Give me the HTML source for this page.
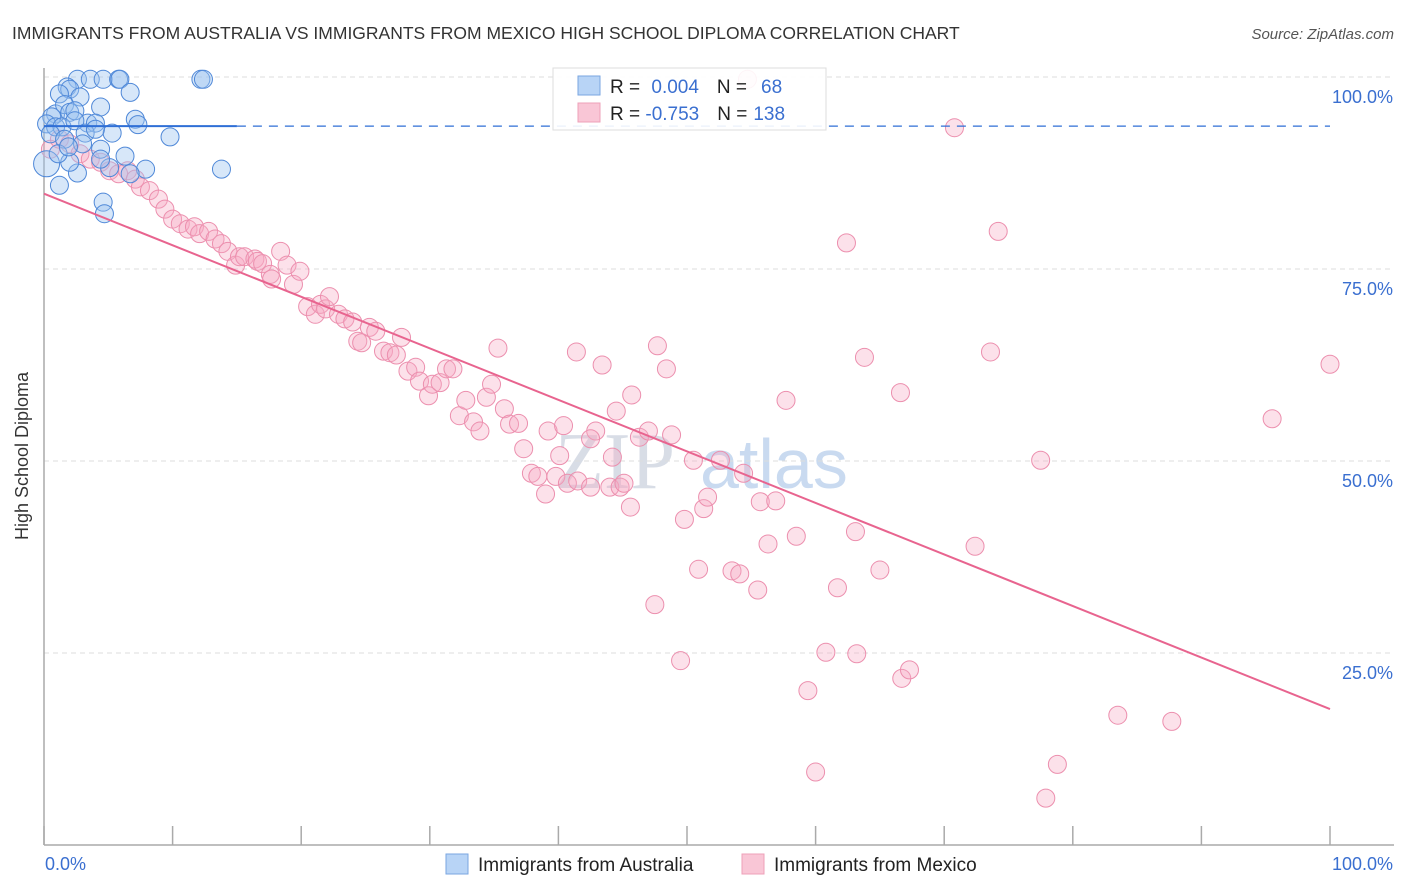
<!DOCTYPE html>
<html><head><meta charset="utf-8"><style>
body{margin:0;background:#fff;font-family:"Liberation Sans",sans-serif}
svg{display:block}
</style></head><body>
<svg id="c" width="1406" height="892" xmlns="http://www.w3.org/2000/svg">
<text x="12" y="39" font-size="17.5" fill="#333">IMMIGRANTS FROM AUSTRALIA VS IMMIGRANTS FROM MEXICO HIGH SCHOOL DIPLOMA CORRELATION CHART</text>
<text x="1394" y="39" font-size="15" fill="#555" font-style="italic" text-anchor="end">Source: ZipAtlas.com</text>
<text x="28" y="456" font-size="18" fill="#333" text-anchor="middle" transform="rotate(-90 28 456)">High School Diploma</text>
<text x="555" y="488" font-size="80" fill="#d8dde6" font-family="Liberation Serif,serif">ZIP</text>
<text x="700" y="488" font-size="70" fill="#c9daf0">atlas</text>
<g id="grid"></g><g id="pts"></g><g id="lines"></g>
<g>
<rect x="553" y="68" width="273" height="62" fill="#fff" fill-opacity="0.9" stroke="#ddd"/>
<rect x="578" y="76" width="22" height="19" fill="#b8d4f6" stroke="#7aa6e0"/>
<rect x="578" y="103" width="22" height="19" fill="#f9c6d6" stroke="#eea0b8"/>
<text x="610" y="93" font-size="19" fill="#222">R = <tspan fill="#3a6fd0" dx="6">0.004</tspan><tspan dx="18">N =</tspan><tspan fill="#3a6fd0" dx="14">68</tspan></text>
<text x="610" y="120" font-size="19" fill="#222">R = <tspan fill="#3a6fd0">-0.753</tspan><tspan dx="18">N =</tspan><tspan fill="#3a6fd0" dx="6">138</tspan></text>
</g>
<g>
<rect x="446" y="854" width="22" height="20" fill="#b8d4f6" stroke="#7aa6e0"/>
<text x="478" y="871" font-size="19" fill="#222">Immigrants from Australia</text>
<rect x="742" y="854" width="22" height="20" fill="#f9c6d6" stroke="#eea0b8"/>
<text x="774" y="871" font-size="19" fill="#222">Immigrants from Mexico</text>
</g>
</svg>
<script>
const yTicks=[100,75,50,25];
const yTickLabels=["100.0%","75.0%","50.0%","25.0%"];
const xTicks=[0,10,20,30,40,50,60,70,80,90,100];
const ausX=[2.6,3.6,4.6,5.8,5.9,12.2,12.4,1.8,2.0,1.2,2.8,6.7,4.4,0.9,1.6,2.0,2.4,0.6,0.2,0.9,1.4,3.4,4.0,7.1,7.3,2.4,5.3,9.8,3.2,0.5,1.6,4.4,6.3,7.9,13.8,1.2,2.6,5.1,4.4,2.0,4.6,4.7,0.2,1.1,4.0,3.0,1.9,6.7];
const ausY=[99.7,99.7,99.7,99.7,99.7,99.7,99.7,98.7,98.4,97.8,97.4,98.0,96.1,95.2,96.4,95.4,95.6,94.8,93.9,93.5,93.5,94.0,94.0,94.5,93.8,94.3,92.7,92.2,92.7,92.6,91.9,90.6,89.7,88.0,88.0,85.9,87.5,88.2,89.3,88.9,83.7,82.2,88.7,90.0,93.2,91.3,90.9,87.4];
const mexX=[0.5,1.2,2.0,2.8,3.6,4.4,5.1,5.8,6.5,7.1,7.5,8.2,8.9,9.4,10.0,10.6,11.2,11.7,12.1,12.8,13.3,13.8,14.3,14.9,15.2,15.6,16.4,16.6,17.0,17.6,17.7,18.4,18.9,19.4,19.9,20.5,21.1,21.5,21.9,22.2,22.9,23.4,24.0,24.4,24.7,25.3,25.8,26.4,26.9,27.4,27.8,28.3,28.9,29.2,29.9,30.2,30.8,31.3,31.8,32.3,32.8,33.4,33.9,34.4,34.8,35.3,35.8,36.2,36.9,37.3,37.9,38.4,39.0,39.2,39.8,40.4,40.7,41.4,41.5,42.5,42.9,43.4,44.0,44.5,44.8,45.1,45.6,45.7,46.3,47.0,47.5,47.7,48.4,48.8,49.5,49.8,50.5,50.9,51.3,51.6,52.6,53.5,54.1,54.4,54.7,55.5,55.7,56.3,56.9,57.7,58.5,59.4,60.0,60.8,61.7,62.4,63.1,63.2,63.8,65.0,66.6,66.7,67.3,70.8,72.4,73.6,74.2,77.5,77.9,78.8,83.5,87.7,95.5,100,40.1,42.5,44.2];
const mexY=[90.6,91.9,91.3,90.0,89.3,88.9,87.8,87.4,87.8,86.7,85.7,85.2,84.1,82.8,81.5,80.9,80.2,80.5,79.6,79.9,78.9,78.3,77.3,75.5,76.6,76.6,76.3,76.0,75.7,74.3,73.7,77.3,75.5,73.0,74.7,70.1,69.1,70.4,69.8,71.4,69.1,68.5,68.1,65.6,65.4,67.4,66.9,64.3,64.1,63.8,66.1,61.7,62.2,60.4,58.5,60.0,60.2,62.0,62.0,55.9,57.9,55.1,53.9,58.3,60.0,64.7,56.8,54.8,54.9,51.6,48.4,48.0,45.7,53.9,48.0,54.6,47.1,64.2,47.4,46.6,53.9,62.5,46.6,56.5,46.6,47.1,44.0,58.6,53.1,53.9,31.3,65.0,62.0,53.4,24.0,42.4,50.1,35.9,43.8,45.3,50.1,35.7,35.3,48.4,99.7,33.2,44.7,39.2,44.8,57.9,40.2,20.1,9.5,25.1,33.5,78.4,40.8,24.9,63.5,35.8,58.9,21.7,22.8,93.4,38.9,64.2,79.9,50.1,6.1,10.5,16.9,16.1,55.5,62.6,50.7,52.9,50.5];
const ausTrend=[93.6,93.6];
const mexTrend=[84.8,17.7];
const NS="http://www.w3.org/2000/svg";
const X=v=>44+v*12.86, Y=v=>845-v*7.68;
function mk(t,a,p){const e=document.createElementNS(NS,t);for(const k in a)e.setAttribute(k,a[k]);p.appendChild(e);return e;}
const grid=document.getElementById('grid'),pts=document.getElementById('pts'),lines=document.getElementById('lines');
yTicks.forEach((v,i)=>{
 const l=mk('line',{x1:44,x2:1394,y1:Y(v),y2:Y(v),stroke:'#ddd','stroke-dasharray':'5,4'},grid);
 
 
 const t=mk('text',{x:1393,y:Y(v)+26,'font-size':18,fill:'#3a6fd0','text-anchor':'end'},grid);t.textContent=yTickLabels[i];
 
 
});
const ax=mk('line',{x1:44,x2:1394,y1:845,y2:845,stroke:'#aaa','stroke-width':1.5},grid);


const ay=mk('line',{x1:44,x2:44,y1:68,y2:845,stroke:'#aaa','stroke-width':1.5},grid);


xTicks.forEach(v=>{const t=mk('line',{x1:X(v),x2:X(v),y1:826,y2:845,stroke:'#aaa','stroke-width':1.5},grid);
 
 });
const t0=mk('text',{x:45,y:870,'font-size':18,fill:'#3a6fd0'},grid);t0.textContent='0.0%';


const t1=mk('text',{x:1393,y:870,'font-size':18,fill:'#3a6fd0','text-anchor':'end'},grid);t1.textContent='100.0%';


mexX.forEach((v,i)=>{const c=mk('circle',{cx:X(v),cy:Y(mexY[i]),r:9,fill:'#f5a9c2','fill-opacity':0.35,stroke:'#ec8fae','stroke-width':1},pts);
 
 });
ausX.forEach((v,i)=>{const c=mk('circle',{cx:X(v),cy:Y(ausY[i]),r:i==42?13:9,fill:'#9cc2f0','fill-opacity':0.4,stroke:'#4f88d8','stroke-width':1},pts);
 
 });
const aTs=mk('line',{x1:X(0),y1:Y(ausTrend[0]),x2:X(15),y2:Y(ausTrend[0]+(ausTrend[1]-ausTrend[0])*0.15),stroke:'#2f6fd6','stroke-width':2},lines);


const aTd=mk('line',{x1:X(15),y1:Y(ausTrend[0]),x2:X(100),y2:Y(ausTrend[1]),stroke:'#2f6fd6','stroke-width':1.2,'stroke-dasharray':'9,7'},lines);


const mT=mk('line',{x1:X(0),y1:Y(mexTrend[0]),x2:X(100),y2:Y(mexTrend[1]),stroke:'#e8648f','stroke-width':2},lines);


</script>
</body></html>
